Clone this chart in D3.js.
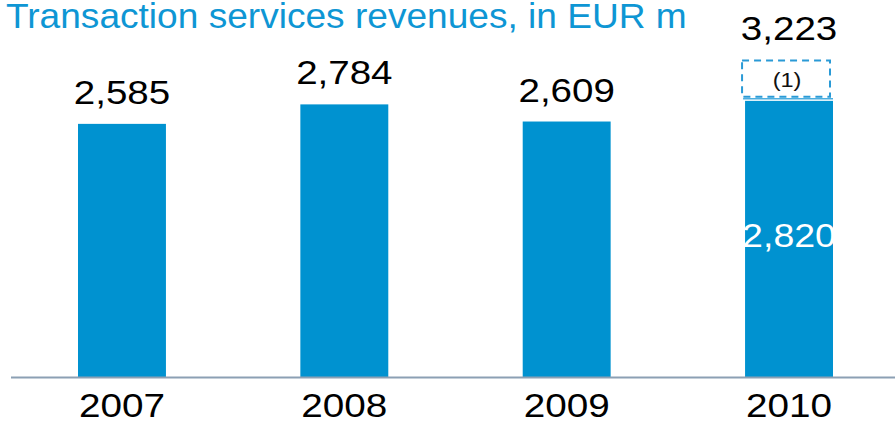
<!DOCTYPE html>
<html>
<head>
<meta charset="utf-8">
<script src="https://cdn.jsdelivr.net/npm/d3@7"></script>
<style>
  body { margin: 0; background: #fff; }
  text { font-family: "Liberation Sans", Arial, sans-serif; }
</style>
</head>
<body>
<svg width="895" height="421"></svg>
<script>
// revenue per year, EUR m
var years = ["2007", "2008", "2009", "2010"];
var revenues = [2585, 2784, 2609, 2820];
var totalLabels = ["2,585", "2,784", "2,609", "3,223"];
var total2010 = 3223;   // incl. (1)
var noteLabel = "(1)";

var svg = d3.select("svg"),
    width = +svg.attr("width"),
    height = +svg.attr("height");

var blue = "#0092d0";
var baseY = 377;

var x = d3.scaleBand()
    .domain(years)
    .range([78, 833])
    .paddingInner(0.6045)
    .paddingOuter(0);

var y = d3.scaleLinear()
    .domain([0, 3850])
    .range([baseY, 0]);

// text is a bit wider than plain Arial in the original
function label(g, tx, ty, sx, size, fill, txt) {
  return g.append("text")
      .attr("transform", "translate(" + tx + "," + ty + ") scale(" + sx + ",1)")
      .attr("text-anchor", "middle")
      .style("font-size", size + "px")
      .attr("fill", fill)
      .text(txt);
}

// title
svg.append("text")
    .attr("transform", "translate(6,28) scale(1.06,1)")
    .attr("fill", "#0e96d4")
    .style("font-size", "35px")
    .text("Transaction services revenues, in EUR m");

// bars
svg.append("g")
    .selectAll("rect")
    .data(revenues)
    .enter().append("rect")
    .attr("x", function(d, i) { return x(years[i]); })
    .attr("y", function(d) { return y(d); })
    .attr("width", x.bandwidth())
    .attr("height", function(d) { return baseY - y(d); })
    .attr("fill", blue);

// dashed (1) box on 2010
var last = years[years.length - 1];
svg.append("rect")
    .attr("x", x(last) - 3)
    .attr("y", y(total2010) - 1)
    .attr("width", x.bandwidth())
    .attr("height", y(revenues[3]) - y(total2010) - 3)
    .attr("fill", "none")
    .attr("stroke", "#2a9ad6")
    .attr("stroke-width", 2)
    .attr("stroke-dasharray", "7,5");

svg.append("line")
    .attr("x1", x(last) - 2)
    .attr("x2", x(last) + x.bandwidth())
    .attr("y1", y(revenues[3]) - 2)
    .attr("y2", y(revenues[3]) - 2)
    .attr("stroke", "#4aaee0")
    .attr("stroke-width", 1.5);

label(svg, x(last) + x.bandwidth() / 2 - 2, 87, 1.12, 21, "#111", noteLabel);

// top labels
revenues.forEach(function(d, i) {
  var top = i == 3 ? y(total2010) - 21 : y(d) - 20;
  label(svg, x(years[i]) + x.bandwidth() / 2, top, 1.15, 33.5, "#000", totalLabels[i]);
});

// inner label 2010
label(svg, x(last) + x.bandwidth() / 2, 247, 1.12, 33.5, "#fff", d3.format(",")(revenues[3]));

// baseline
svg.append("line")
    .attr("x1", 11)
    .attr("x2", width)
    .attr("y1", baseY + 0.5)
    .attr("y2", baseY + 0.5)
    .attr("stroke", "#8ca0b4")
    .attr("stroke-width", 2);

// year labels
var xAxis = svg.append("g")
    .attr("transform", "translate(0," + baseY + ")")
    .call(d3.axisBottom(x).tickSize(0).tickPadding(0));
xAxis.select(".domain").remove();
xAxis.selectAll("text")
    .attr("dy", null)
    .attr("y", 0)
    .attr("transform", "translate(0,40) scale(1.19,1)")
    .attr("fill", "#000")
    .style("font-size", "32.5px")
    .style("font-family", "'Liberation Sans', Arial, sans-serif");
</script>
</body>
</html>
